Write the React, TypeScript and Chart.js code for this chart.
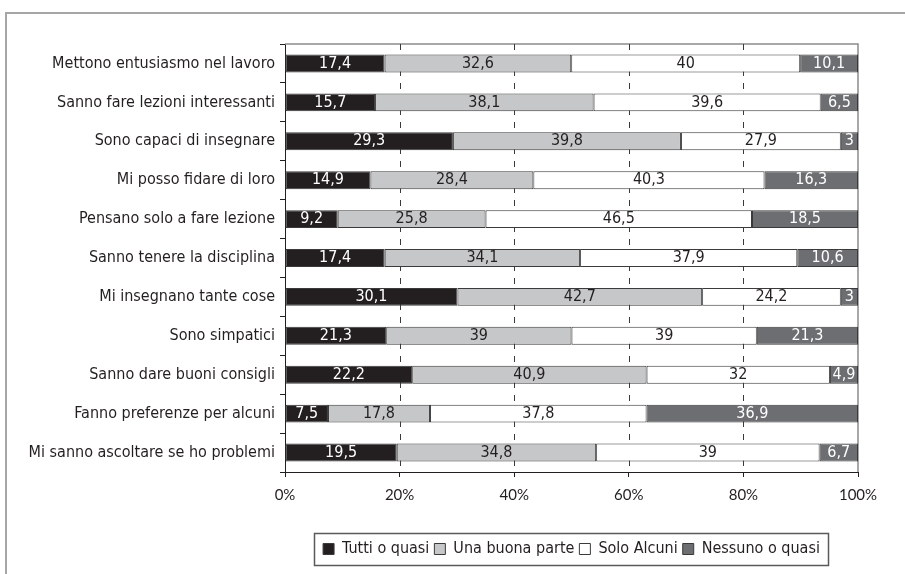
import React, { useEffect, useRef } from 'react';
import { Chart, registerables } from 'chart.js';

Chart.register(...registerables);

const categories = [
  'Mettono entusiasmo nel lavoro',
  'Sanno fare lezioni interessanti',
  'Sono capaci di insegnare',
  'Mi posso fidare di loro',
  'Pensano solo a fare lezione',
  'Sanno tenere la disciplina',
  'Mi insegnano tante cose',
  'Sono simpatici',
  'Sanno dare buoni consigli',
  'Fanno preferenze per alcuni',
  'Mi sanno ascoltare se ho problemi',
];

const seriesNames = ['Tutti o quasi', 'Una buona parte', 'Solo Alcuni', 'Nessuno o quasi'];
const tuttiOQuasi = [17.4, 15.7, 29.3, 14.9, 9.2, 17.4, 30.1, 21.3, 22.2, 7.5, 19.5];
const unaBuonaParte = [32.6, 38.1, 39.8, 28.4, 25.8, 34.1, 42.7, 39, 40.9, 17.8, 34.8];
const soloAlcuni = [40, 39.6, 27.9, 40.3, 46.5, 37.9, 24.2, 39, 32, 37.8, 39];
const nessunoOQuasi = [10.1, 6.5, 3, 16.3, 18.5, 10.6, 3, 21.3, 4.9, 36.9, 6.7];
const xTicks = [0, 20, 40, 60, 80, 100];

const seriesColors = ['#231f20', '#c6c7c8', '#ffffff', '#6d6e71'];
const labelColors = ['#ffffff', '#231f20', '#231f20', '#ffffff'];

const LABEL_FONT = "'DejaVu Sans Condensed', 'DejaVu Sans', sans-serif";

export default function App() {
  const canvasRef = useRef<HTMLCanvasElement | null>(null);

  useEffect(() => {
    const canvas = canvasRef.current;
    if (!canvas) return;
    const raw = [tuttiOQuasi, unaBuonaParte, soloAlcuni, nessunoOQuasi];
    const totals = categories.map((_, i) => raw.reduce((s, arr) => s + arr[i], 0));

    const datasets = raw.map((arr, k) => ({
      label: seriesNames[k],
      data: arr.map((v, i) => (v / totals[i]) * 100),
      rawValues: arr,
      backgroundColor: seriesColors[k],
      borderColor: '#3a3a3a',
      borderWidth: 1,
      borderSkipped: false,
      categoryPercentage: 1,
      barPercentage: 0.46,
    }));

    const framePlugin = {
      id: 'framePlugin',
      beforeDatasetsDraw(chart: any) {
        const { ctx, chartArea } = chart;
        const xs = chart.scales.x;
        ctx.save();
        ctx.strokeStyle = '#8c8c8c';
        ctx.lineWidth = 1.5;
        ctx.beginPath();
        ctx.moveTo(chartArea.left, chartArea.top);
        ctx.lineTo(chartArea.right, chartArea.top);
        ctx.lineTo(chartArea.right, chartArea.bottom);
        ctx.stroke();
        ctx.strokeStyle = '#3a3a3a';
        ctx.lineWidth = 1;
        ctx.setLineDash([6, 7]);
        xTicks.slice(1, -1).forEach((t) => {
          const x = Math.round(xs.getPixelForValue(t)) + 0.5;
          ctx.beginPath();
          ctx.moveTo(x, chartArea.top);
          ctx.lineTo(x, chartArea.bottom);
          ctx.stroke();
        });
        ctx.restore();
      },
      afterDatasetsDraw(chart: any) {
        const { ctx } = chart;
        ctx.save();
        ctx.font = `16px ${LABEL_FONT}`;
        ctx.textAlign = 'center';
        ctx.textBaseline = 'middle';
        chart.data.datasets.forEach((ds: any, k: number) => {
          const meta = chart.getDatasetMeta(k);
          meta.data.forEach((el: any, i: number) => {
            const cx = (el.x + el.base) / 2;
            ctx.fillStyle = labelColors[k];
            ctx.fillText(String(ds.rawValues[i]).replace('.', ','), cx, el.y);
          });
        });
        ctx.restore();
      },
      afterDraw(chart: any) {
        const lg = chart.legend;
        if (!lg || !lg.legendHitBoxes || !lg.legendHitBoxes.length) return;
        const boxes = lg.legendHitBoxes;
        const left = Math.min(...boxes.map((b: any) => b.left));
        const right = Math.max(...boxes.map((b: any) => b.left + b.width));
        const cy = boxes[0].top + boxes[0].height / 2;
        const { ctx } = chart;
        ctx.save();
        ctx.strokeStyle = '#5a5a5a';
        ctx.lineWidth = 1.5;
        ctx.strokeRect(Math.round(left - 9) + 0.5, Math.round(cy - 16) + 0.5, Math.round(right - left + 17), 32);
        ctx.restore();
      },
    };

    const chart = new Chart(canvas, {
      type: 'bar',
      data: { labels: categories, datasets: datasets as any },
      options: {
        indexAxis: 'y',
        responsive: false,
        animation: false,
        devicePixelRatio: 1,
        layout: { padding: { left: 0, right: 47, top: 44, bottom: 7 } },
        plugins: {
          tooltip: { enabled: false },
          legend: {
            position: 'bottom',
            fullSize: false,
            labels: {
              boxWidth: 11,
              boxHeight: 11,
              padding: 5,
              color: '#231f20',
              font: { family: LABEL_FONT, size: 16 },
            },
          },
        },
        scales: {
          x: {
            stacked: true,
            min: 0,
            max: 100,
            afterBuildTicks: (scale: any) => {
              scale.ticks = xTicks.map((v) => ({ value: v }));
            },
            afterFit: (scale: any) => {
              scale.height = 64;
            },
            ticks: {
              padding: 9,
              color: '#231f20',
              font: { family: 'Lato, sans-serif', size: 15 },
              callback: (v: any) => `${v}%`,
            },
            grid: {
              drawOnChartArea: false,
              drawTicks: true,
              tickLength: 5,
              color: '#231f20',
            },
            border: { display: true, color: '#231f20', width: 1 },
          },
          y: {
            stacked: true,
            afterFit: (scale: any) => {
              scale.width = 285;
            },
            ticks: {
              padding: 5,
              color: '#231f20',
              font: { family: LABEL_FONT, size: 16 },
            },
            grid: {
              offset: true,
              drawOnChartArea: false,
              drawTicks: true,
              tickLength: 5,
              color: '#231f20',
            },
            border: { display: true, color: '#231f20', width: 1 },
          },
        },
      },
      plugins: [framePlugin],
    });
    return () => chart.destroy();
  }, []);

  return (
    <div style={{ position: 'absolute', left: 0, top: 0, width: 905, height: 574, overflow: 'hidden', background: '#fff' }}>
      <div
        style={{
          position: 'absolute',
          left: 5,
          top: 12,
          width: 1000,
          height: 1000,
          borderLeft: '2px solid #a6a6a6',
          borderTop: '2px solid #a6a6a6',
        }}
      />
      <canvas ref={canvasRef} width={905} height={574} style={{ position: 'absolute', left: 0, top: 0 }} />
    </div>
  );
}
